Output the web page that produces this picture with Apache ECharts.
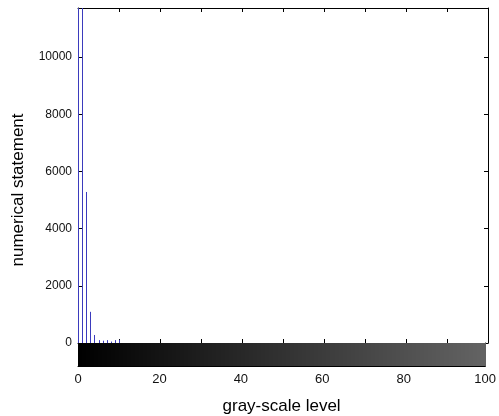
<!DOCTYPE html>
<html>
<head>
<meta charset="utf-8">
<script src="https://cdn.jsdelivr.net/npm/echarts@6/dist/echarts.min.js"></script>
<style>html,body{margin:0;padding:0;background:#fff}#c{width:499px;height:416px}</style>
</head>
<body>
<div id="c"></div>
<script>
// Histogram data (gray level -> count)
var levels = [0, 1, 2, 3, 4, 5, 6, 7, 8, 9, 10];
var counts = [11713, 11713, 5280, 1090, 280, 100, 80, 100, 50, 100, 110];
var yTicks = [0, 2000, 4000, 6000, 8000, 10000];
var xTicks = [0, 20, 40, 60, 80, 100];
var yMax = 11713;
var grayDomain = [];
for (var g = 0; g < 100; g++) grayDomain.push(g);

var chart = echarts.init(document.getElementById('c'));
var font = 'Liberation Sans, Arial, sans-serif';
var black = '#000';
function axLine(){ return {show:true, onZero:false, lineStyle:{color:black, width:1}}; }
function tick(){ return {show:true, inside:true, length:4, lineStyle:{color:black}}; }

chart.setOption({
  animation: false,
  backgroundColor: '#fff',
  grid: [
    {left: 78, top: 8, width: 410, height: 335},
    {left: 78, top: 343, width: 410, height: 28}
  ],
  xAxis: [
    {gridIndex:0, type:'value', min:0, max:100, interval:10, position:'bottom',
     axisLine:axLine(), axisTick:tick(), axisLabel:{show:false}, splitLine:{show:false}},
    {gridIndex:0, type:'value', min:0, max:100, interval:10, position:'top',
     axisLine:axLine(), axisTick:tick(), axisLabel:{show:false}, splitLine:{show:false}},
    {gridIndex:1, type:'value', min:0, max:100, interval:20, position:'bottom',
     axisLine:axLine(), axisTick:tick(),
     axisLabel:{show:true, color:'#111', fontFamily:font, fontSize:13, margin:7,
       formatter:function(v){ return xTicks.indexOf(v) >= 0 ? String(v) : ''; }},
     splitLine:{show:false},
     name:'gray-scale level', nameLocation:'middle', nameGap:32,
     nameTextStyle:{color:black, fontFamily:font, fontSize:17}}
  ],
  yAxis: [
    {gridIndex:0, type:'value', min:0, max:yMax, interval:2000, position:'left',
     axisLine:axLine(), axisTick:tick(),
     axisLabel:{show:true, color:'#111', fontFamily:font, fontSize:12, margin:6,
       showMaxLabel:false,
       formatter:function(v){ return yTicks.indexOf(v) >= 0 ? String(v) : ''; }},
     splitLine:{show:false}},
    {gridIndex:0, type:'value', min:0, max:yMax, interval:2000, position:'right',
     axisLine:axLine(), axisTick:tick(), axisLabel:{show:false}, splitLine:{show:false}},
    {gridIndex:1, type:'value', min:0, max:1, interval:1, position:'left',
     axisLine:axLine(), axisTick:{show:false}, axisLabel:{show:false}, splitLine:{show:false}},
    {gridIndex:1, type:'value', min:0, max:1, interval:0.5, position:'right',
     axisLine:axLine(), axisTick:tick(), axisLabel:{show:false}, splitLine:{show:false}}
  ],
  graphic: [{
    type:'text', rotation: Math.PI/2, x: 18, y: 190,
    style:{text:'numerical statement', fill:black, font:'17px ' + font,
           textAlign:'center', textVerticalAlign:'middle'}
  }],
  series: [
    {
      type:'custom', xAxisIndex:2, yAxisIndex:2, clip:true, silent:true,
      data: grayDomain.map(function(v){ return [v]; }),
      renderItem: function(params, api){
        var v = api.value(0);
        var p0 = api.coord([v, 1]);
        var p1 = api.coord([v + 1, 0]);
        var x0 = Math.round(p0[0]), x1 = Math.round(p1[0]);
        var c = Math.round(v);
        return {type:'rect', shape:{x:x0, y:Math.round(p0[1]), width:Math.max(1, x1 - x0) + 1, height:Math.round(p1[1]) - Math.round(p0[1])},
                style:{fill:'rgb(' + c + ',' + c + ',' + c + ')', lineWidth:0}};
      },
      z: 1
    },
    {
      type:'custom', xAxisIndex:0, yAxisIndex:0, clip:true, silent:true,
      data: levels.map(function(l, i){ return [l, counts[i]]; }),
      renderItem: function(params, api){
        var top = api.coord([api.value(0), api.value(1)]);
        var base = api.coord([api.value(0), 0]);
        var x = Math.round(top[0]) + 0.5;
        return {type:'line', shape:{x1:x, y1:base[1], x2:x, y2:top[1]},
                style:{stroke:'#3b3bbd', lineWidth:1}};
      },
      z: 3
    }
  ]
});
</script>
</body>
</html>
